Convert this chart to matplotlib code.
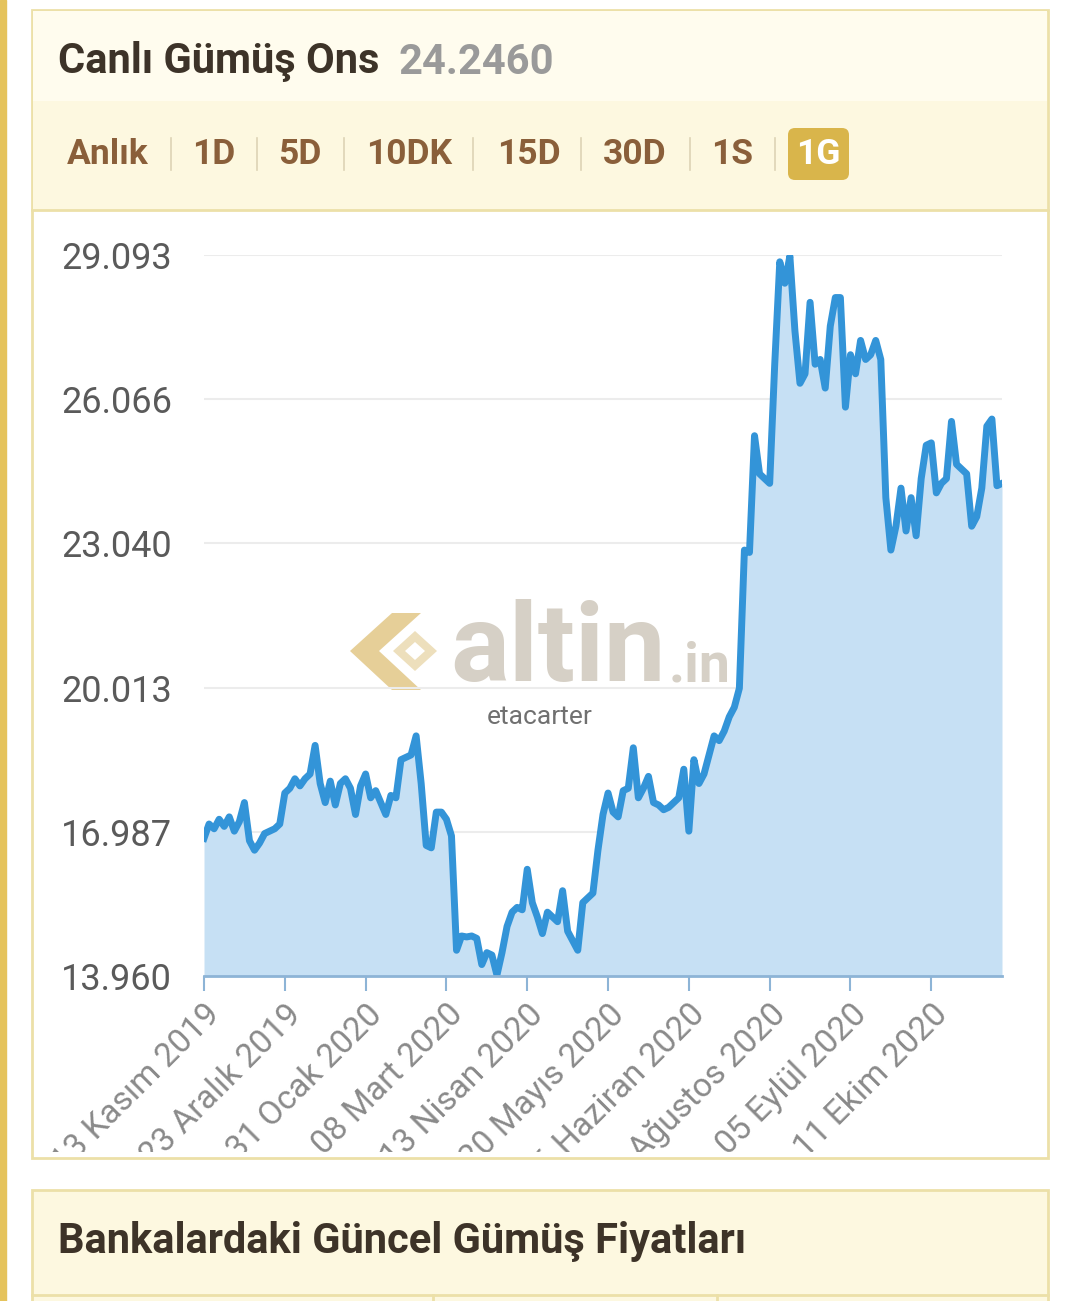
# -*- coding: utf-8 -*-
# Canli Gumus Ons - 1 yillik grafik (altin.in ekran goruntusu)
import matplotlib
matplotlib.use('Agg')
import matplotlib.pyplot as plt
from matplotlib.patches import Rectangle, FancyBboxPatch, Polygon
from matplotlib.transforms import Affine2D, Bbox, TransformedBbox

plt.rcParams['font.family'] = ['Roboto', 'DejaVu Sans']

# Data
title = 'Canlı Gümüş Ons'
last_price = '24.2460'
tabs = ['Anlık', '1D', '5D', '10DK', '15D', '30D', '1S', '1G']
tab_x = [67, 192, 278, 366, 497, 603, 711, 818]
sep_x = [171, 257, 344, 473, 581, 690, 775]
y_ticks = [13.960, 16.987, 20.013, 23.040, 26.066, 29.093]
x_tick_idx = [0, 16, 32, 48, 64, 80, 96, 112, 128, 144]
x_tick_labels = ['13 Kasım 2019', '23 Aralık 2019', '31 Ocak 2020', '08 Mart 2020',
                 '13 Nisan 2020', '20 Mayıs 2020', '26 Haziran 2020', '01 Ağustos 2020',
                 '05 Eylül 2020', '11 Ekim 2020']
prices = [16.85, 17.15, 17.05, 17.25, 17.1, 17.3, 17.0, 17.2, 17.6, 16.8,
          16.6, 16.75, 16.95, 17.0, 17.05, 17.15, 17.8, 17.9, 18.1, 17.95,
          18.1, 18.2, 18.8, 18.0, 17.6, 18.05, 17.55, 18.0, 18.1, 17.9,
          17.35, 17.95, 18.2, 17.7, 17.85, 17.6, 17.35, 17.75, 17.7, 18.5,
          18.55, 18.6, 19.0, 18.0, 16.7, 16.65, 17.4, 17.4, 17.25, 16.9,
          14.5, 14.8, 14.78, 14.8, 14.75, 14.2, 14.45, 14.4, 13.98, 14.45,
          15.0, 15.3, 15.4, 15.35, 16.2, 15.5, 15.2, 14.85, 15.3, 15.2,
          15.1, 15.75, 14.9, 14.7, 14.5, 15.5, 15.6, 15.7, 16.6, 17.35,
          17.8, 17.4, 17.3, 17.85, 17.9, 18.75, 17.7, 17.9, 18.15, 17.6,
          17.55, 17.45, 17.5, 17.6, 17.7, 18.3, 17.0, 18.5, 18.0, 18.2,
          18.6, 19.0, 18.9, 19.1, 19.4, 19.6, 20.0, 22.9, 22.85, 25.3,
          24.5, 24.4, 24.3, 26.8, 28.95, 28.5, 29.07, 27.5, 26.4, 26.6,
          28.1, 26.8, 26.9, 26.3, 27.6, 28.2, 28.2, 25.9, 27.0, 26.6,
          27.3, 26.9, 27.0, 27.3, 26.9, 24.0, 22.9, 23.4, 24.2, 23.3,
          24.0, 23.2, 24.4, 25.1, 25.15, 24.1, 24.3, 24.4, 25.6, 24.7,
          24.6, 24.5, 23.4, 23.6, 24.2, 25.5, 25.65, 24.25, 24.3]

W, H = 1080, 1301
fig = plt.figure(figsize=(W / 100, H / 100), dpi=100)
fig.patch.set_facecolor('white')
# pixel coords, origin top-left
px = Affine2D().scale(1 / 100, -1 / 100).translate(0, H / 100) + fig.dpi_scale_trans

border = '#ece0a8'
cream = '#fdf8e0'

# left gold strip
fig.patches.append(Rectangle((0, 0), 6, H, transform=px, color='#e5c35c', zorder=-3))

# card 1
fig.patches.append(Rectangle((32, 10), 1016, 1148, transform=px, facecolor='white',
                             edgecolor=border, lw=2, zorder=-3))
fig.patches.append(Rectangle((33, 11), 1014, 199, transform=px, facecolor=cream,
                             edgecolor='none', zorder=-2))
fig.patches.append(Rectangle((33, 11), 1014, 90, transform=px, facecolor='#fffcee',
                             edgecolor='none', zorder=-2))
fig.lines.append(plt.Line2D([32, 1048], [210, 210], transform=px, color=border, lw=2))

fig.text(58, 62, title, transform=px, fontsize=30, fontweight='bold',
         color='#3d3328', va='center', ha='left')
fig.text(398, 62, last_price, transform=px, fontsize=30, fontweight='bold',
         color='#9a9a9a', va='center', ha='left')

fig.patches.append(FancyBboxPatch((788, 128), 61, 52, boxstyle='round,pad=0,rounding_size=7',
                                  transform=px, facecolor='#d9b54b', edgecolor='none'))
for name, x in zip(tabs, tab_x):
    if name == '1G':
        fig.text(x, 155, name, transform=px, fontsize=25.5, fontweight='bold',
                 color='white', va='center', ha='center')
    else:
        fig.text(x, 155, name, transform=px, fontsize=25.5, fontweight='bold',
                 color='#8a5f3a', va='center', ha='left')
for x in sep_x:
    fig.lines.append(plt.Line2D([x, x], [138, 170], transform=px, color='#ddd3b5', lw=1.2))

# card 2
fig.patches.append(Rectangle((32, 1190), 1016, 140, transform=px, facecolor=cream,
                             edgecolor=border, lw=2, zorder=-3))
fig.text(58, 1241, 'Bankalardaki Güncel Gümüş Fiyatları', transform=px, fontsize=30,
         fontweight='bold', color='#3d3328', va='center', ha='left')
fig.lines.append(plt.Line2D([32, 1048], [1295, 1295], transform=px, color=border, lw=2))
for x in [433, 717]:
    fig.lines.append(plt.Line2D([x, x], [1295, 1301], transform=px, color=border, lw=2))

# watermark (under the chart line)
fig.patches.append(Polygon([(350, 651), (392, 613), (421, 613), (379, 651), (421, 690), (392, 690)],
                           closed=True, transform=px, facecolor='#e6cf98', edgecolor='none', zorder=0.5))
fig.patches.append(Polygon([(393, 651), (415, 631), (437, 651), (415, 671)],
                           closed=True, transform=px, facecolor='#eddfbc', edgecolor='none', zorder=0.5))
fig.patches.append(Polygon([(405, 651), (415, 642), (425, 651), (415, 660)],
                           closed=True, transform=px, facecolor='white', edgecolor='none', zorder=0.5))
fig.text(450, 681, 'altin', transform=px, fontsize=79, fontweight='bold',
         color='#d6d0c6', va='baseline', ha='left', zorder=0.5)
fig.text(669, 681, '.in', transform=px, fontsize=40, fontweight='bold',
         color='#d6d0c6', va='baseline', ha='left', zorder=0.5)
fig.text(540, 717, 'etacarter', transform=px, fontsize=19, color='#707070',
         va='center', ha='center', zorder=0.5)

# chart
ax = fig.add_axes([204 / W, 1 - 976 / H, 798 / W, 721 / H])
ax.set_zorder(1)
ax.set_facecolor('none')
xs = list(range(len(prices)))
ax.fill_between(xs, prices, y_ticks[0], color='#c6e0f4', lw=0, zorder=2)
ax.plot(xs, prices, color='#3394d8', lw=5, solid_joinstyle='round', zorder=3)
ax.set_xlim(0, len(prices) - 1)
ax.set_ylim(y_ticks[0], y_ticks[-1])
ax.set_yticks(y_ticks)
ax.set_yticklabels(['%.3f' % v for v in y_ticks])
ax.set_xticks(x_tick_idx)
ax.set_xticklabels(x_tick_labels, rotation=45, ha='right', va='top', rotation_mode='anchor')
ax.grid(axis='y', color='#ececec', lw=1.5, zorder=1)
for s in ['top', 'right', 'left']:
    ax.spines[s].set_visible(False)
ax.spines['bottom'].set_color('#8db4d6')
ax.spines['bottom'].set_linewidth(2)
ax.spines['bottom'].set_zorder(4)
ax.tick_params(axis='y', length=0, pad=23, labelsize=26, labelcolor='#5a5a5a')
ax.tick_params(axis='x', length=11, width=1.5, color='#8db4d6', pad=5,
               labelsize=24, labelcolor='#8a8a8a')
clip = TransformedBbox(Bbox([[40 / W, 1 - 1152 / H], [1040 / W, 1 - 980 / H]]), fig.transFigure)
for lbl in ax.get_xticklabels():
    lbl.set_clip_on(True)
    lbl.set_clip_box(clip)

fig.savefig('out.png', dpi=100)
